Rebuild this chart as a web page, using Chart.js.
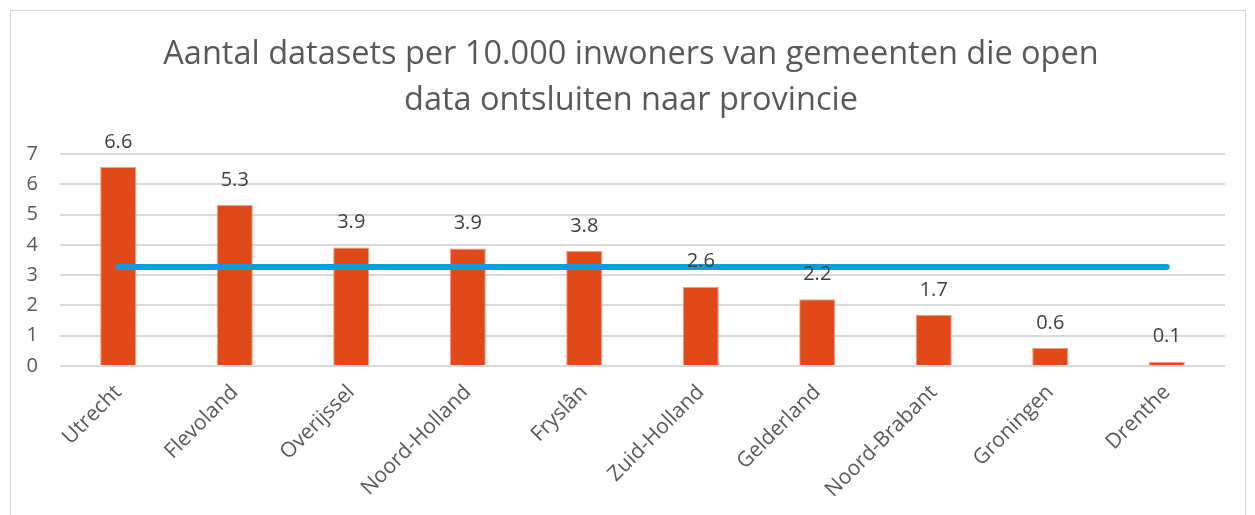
<!DOCTYPE html>
<html>
<head>
<meta charset="utf-8">
<script src="https://cdn.jsdelivr.net/npm/chart.js@4"></script>
<style>
    html, body { margin: 0; padding: 0; background: #ffffff; }
    #wrap { position: relative; width: 1255px; height: 515px; }
    #frame { position: absolute; left: 10px; top: 10px; width: 1234px; height: 520px; border: 1px solid #d9d9d9; }
    canvas { position: absolute; left: 0; top: 0; }
</style>
</head>
<body>
<div id="wrap">
    <div id="frame"></div>
    <canvas id="barchart" width="1255" height="515"></canvas>
</div>
<script>
var provincies = ['Utrecht', 'Flevoland', 'Overijssel', 'Noord-Holland', 'Fryslân',
                  'Zuid-Holland', 'Gelderland', 'Noord-Brabant', 'Groningen', 'Drenthe'];
var datasetsPer10k = [6.57, 5.32, 3.91, 3.88, 3.8, 2.62, 2.2, 1.69, 0.6, 0.14];
var gemiddelde     = [3.27, 3.27, 3.27, 3.27, 3.27, 3.27, 3.27, 3.27, 3.27, 3.27];
var yTicks         = [0, 1, 2, 3, 4, 5, 6, 7];
var titel          = ['Aantal datasets per 10.000 inwoners van gemeenten die open',
                      'data ontsluiten naar provincie'];

var textColor = '#595959';
var fontName  = "'Open Sans', 'Noto Sans', sans-serif";

// labels boven de staven (dataset 1 = staven)
var valueLabels = {
    id: 'valueLabels',
    afterDatasetsDraw: function(chart) {
        var ctx  = chart.ctx;
        var meta = chart.getDatasetMeta(1);
        ctx.save();
        ctx.font = '20px ' + fontName;
        ctx.fillStyle = '#404040';
        ctx.textAlign = 'center';
        ctx.textBaseline = 'middle';
        for (var i = 0; i < meta.data.length; i++) {
            var bar = meta.data[i];
            ctx.fillText(datasetsPer10k[i].toFixed(1), bar.x, bar.y - 25);
        }
        ctx.restore();
    }
};

var ctx = document.getElementById('barchart');
var chart = new Chart(ctx, {
    type: 'bar',
    data: {
        labels: provincies,
        datasets: [
            {
                type: 'line',
                label: 'Gemiddelde',
                data: gemiddelde,
                borderColor: '#0A9FDA',
                borderWidth: 6,
                borderCapStyle: 'round',
                pointRadius: 0,
                fill: false,
                order: 0
            },
            {
                label: 'Datasets per 10.000 inwoners',
                data: datasetsPer10k,
                backgroundColor: '#E04A18',
                borderColor: '#F2A080',
                borderWidth: 1,
                barPercentage: 0.31,
                categoryPercentage: 1,
                order: 1
            }
        ]
    },
    options: {
        responsive: false,
        animation: false,
        layout: { padding: { left: 7, right: 0, top: 0, bottom: 0 } },
        plugins: {
            legend: { display: false },
            tooltip: { enabled: false },
            title: {
                display: true,
                text: titel,
                color: textColor,
                font: { family: fontName, size: 32.5, weight: 'normal', lineHeight: 1.4 },
                padding: { top: 32, bottom: 31 }
            }
        },
        scales: {
            x: {
                grid: { display: false },
                border: { display: false },
                ticks: {
                    color: textColor,
                    font: { family: fontName, size: 21 },
                    maxRotation: 45,
                    minRotation: 45,
                    padding: 6
                },
                afterFit: function(scale) { scale.height = 149; }
            },
            y: {
                min: 0,
                max: 7,
                afterBuildTicks: function(scale) {
                    scale.ticks = yTicks.map(function(v) { return { value: v }; });
                },
                grid: { color: '#d9d9d9', lineWidth: 2, drawTicks: false },
                border: { display: false },
                ticks: {
                    color: textColor,
                    font: { family: fontName, size: 20 },
                    padding: 22
                },
                afterFit: function(scale) { scale.width = 53; }
            },
            // lege as rechts, alleen voor de witruimte
            yRight: {
                position: 'right',
                display: true,
                grid: { display: false },
                border: { display: false },
                ticks: { display: false },
                afterFit: function(scale) { scale.width = 30; }
            }
        }
    },
    plugins: [valueLabels]
});
</script>
</body>
</html>
